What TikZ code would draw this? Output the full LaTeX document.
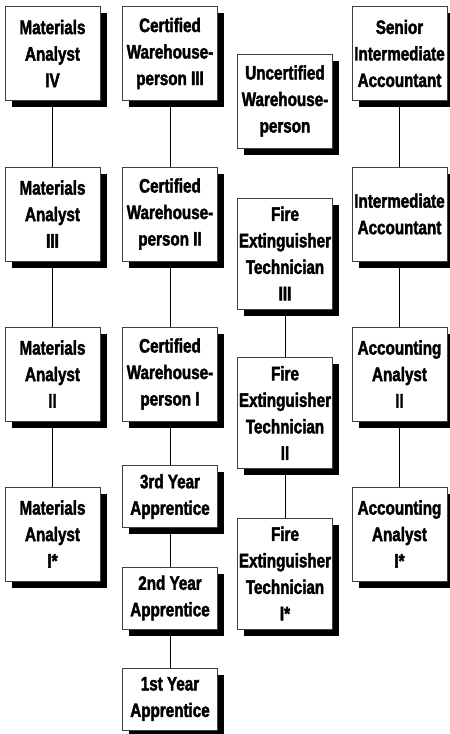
\documentclass[tikz,border=0pt]{standalone}
\usepackage{fontspec}
\setmainfont{Liberation Sans}[FakeStretch=0.78,BoldFeatures={FakeBold=2}]
\usetikzlibrary{backgrounds}

\begin{document}
\begin{tikzpicture}[x=1pt,y=-1pt,
    job/.style={draw=black!75,line width=0.8pt,fill=white,inner sep=0pt,
        minimum width=95pt,minimum height=94pt,align=center,
        font=\fontsize{19.5}{26.5}\selectfont\bfseries,
        preaction={draw=none,fill=black,transform canvas={shift={(6.5,6.5)}}}},
    short/.style={job,minimum height=62pt},
    tall/.style={job,minimum height=111pt}]
    \useasboundingbox (0,0) rectangle (450,734);
    % materials analysts
    \node[job] (m4) at (52.5,53.5) {Materials\\Analyst\\IV};
    \node[job] (m3) at (52.5,214) {Materials\\Analyst\\III};
    \node[job] (m2) at (52.5,374) {Materials\\Analyst\\II};
    \node[job] (m1) at (52.5,534) {Materials\\Analyst\\I*};
    % warehouse
    \node[job] (c3) at (170,53.5) {Certified\\Warehouse-\\person III};
    \node[job] (c2) at (170,214) {Certified\\Warehouse-\\person II};
    \node[job] (c1) at (170,374) {Certified\\Warehouse-\\person I};
    \node[short] (a3) at (170,496.5) {3rd Year\\Apprentice};
    \node[short] (a2) at (170,598) {2nd Year\\Apprentice};
    \node[short] (a1) at (170,699) {1st Year\\Apprentice};
    \node[job] (uw) at (285,101) {Uncertified\\Warehouse-\\person};
    % fire extinguisher
    \node[tall] (f3) at (285,253.5) {Fire\\Extinguisher\\Technician\\III};
    \node[tall] (f2) at (285,413) {Fire\\Extinguisher\\Technician\\II};
    \node[tall] (f1) at (285,573.5) {Fire\\Extinguisher\\Technician\\I*};
    % accounting
    \node[job] (s4) at (399.5,53.5) {Senior\\Intermediate\\Accountant};
    \node[job] (s3) at (399.5,214) {Intermediate\\Accountant};
    \node[job] (s2) at (399.5,374) {Accounting\\Analyst\\II};
    \node[job] (s1) at (399.5,534) {Accounting\\Analyst\\I*};
    \begin{scope}[on background layer,black!75,line width=0.8pt]
        \draw (m4) -- (m3);
        \draw (m3) -- (m2);
        \draw (m2) -- (m1);
        \draw (c3) -- (c2);
        \draw (c2) -- (c1);
        \draw (c1) -- (a3);
        \draw (a3) -- (a2);
        \draw (a2) -- (a1);
        \draw (f3) -- (f2);
        \draw (f2) -- (f1);
        \draw (s4) -- (s3);
        \draw (s3) -- (s2);
        \draw (s2) -- (s1);
    \end{scope}
\end{tikzpicture}
\end{document}
